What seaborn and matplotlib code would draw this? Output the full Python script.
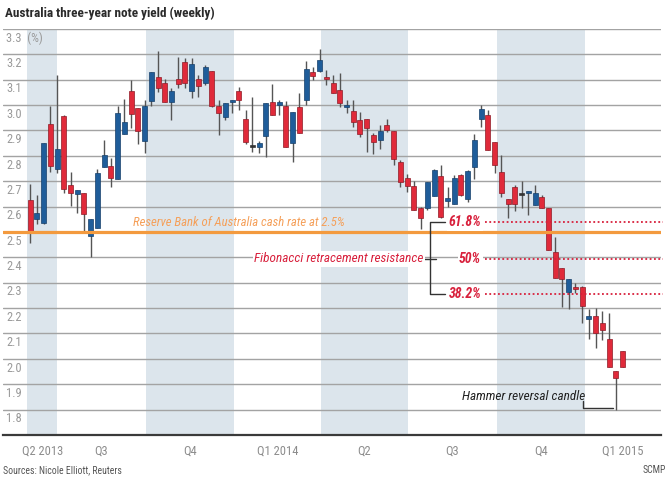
import pandas as pd
import matplotlib
matplotlib.use("Agg")
import matplotlib.pyplot as plt
import matplotlib.dates as mdates
import matplotlib.transforms as mtransforms
from matplotlib import font_manager
import seaborn as sns

# weekly candles (yield, %), first week starting 3 June 2013
week_start = "2013-06-03"
opens = [2.625, 2.55, 2.536, 2.925, 2.75, 2.957, 2.686, 2.651, 2.654, 2.483,
         2.517, 2.757, 2.759, 2.707, 2.886, 3.057, 2.99, 2.859, 3.017, 3.109,
         3.088, 3.013, 3.101, 3.171, 3.055, 3.101, 3.086, 3.136, 2.996, 2.954,
         3.013, 3.055, 2.945, 2.838, 2.836, 2.878, 3.011, 3.0, 2.996, 2.851,
         2.991, 3.022, 3.132, 3.136, 3.112, 3.088, 3.059, 2.991, 2.978, 2.941,
         2.945, 2.882, 2.862, 2.921, 2.899, 2.776, 2.713, 2.682, 2.595, 2.596,
         2.641, 2.72, 2.623, 2.61, 2.724, 2.629, 2.757, 2.945, 2.961, 2.856,
         2.738, 2.629, 2.678, 2.649, 2.652, 2.606, 2.639, 2.593, 2.423, 2.357,
         2.265, 2.285, 2.284, 2.159, 2.168, 2.142, 2.08, 1.953, 2.032]
closes = [2.50, 2.575, 2.851, 2.76, 2.829, 2.671, 2.655, 2.667, 2.572, 2.55,
          2.734, 2.803, 2.713, 2.967, 2.932, 2.965, 2.899, 2.997, 3.129, 3.066,
          3.011, 3.055, 3.083, 3.086, 3.164, 3.076, 3.149, 2.997, 2.967, 3.009,
          3.022, 3.022, 2.855, 2.835, 2.849, 3.007, 2.961, 3.013, 2.836, 2.974,
          2.891, 3.141, 3.114, 3.178, 3.101, 3.049, 3.007, 3.0, 2.934, 2.888,
          2.908, 2.855, 2.897, 2.901, 2.786, 2.697, 2.682, 2.588, 2.555, 2.696,
          2.743, 2.558, 2.635, 2.711, 2.646, 2.741, 2.862, 2.984, 2.823, 2.764,
          2.652, 2.61, 2.61, 2.647, 2.663, 2.655, 2.593, 2.429, 2.318, 2.314,
          2.314, 2.276, 2.208, 2.168, 2.103, 2.113, 1.968, 1.925, 1.968]
highs = [2.69, 2.645, 2.851, 2.997, 3.118, 2.96, 2.737, 2.667, 2.654, 2.55,
         2.75, 2.864, 2.79, 2.997, 3.024, 3.099, 2.99, 3.02, 3.132, 3.214,
         3.101, 3.066, 3.191, 3.187, 3.184, 3.118, 3.16, 3.136, 3.02, 3.009,
         3.022, 3.072, 2.98, 3.033, 2.86, 3.007, 3.082, 3.02, 3.016, 2.974,
         3.046, 3.175, 3.151, 3.221, 3.14, 3.118, 3.125, 3.02, 3.02, 2.974,
         2.945, 2.89, 2.921, 2.947, 2.899, 2.782, 2.73, 2.701, 2.6, 2.696,
         2.75, 2.764, 2.676, 2.724, 2.73, 2.744, 2.888, 3.0, 2.98, 2.856,
         2.803, 2.629, 2.685, 2.702, 2.663, 2.685, 2.645, 2.593, 2.482, 2.357,
         2.314, 2.30, 2.289, 2.195, 2.2, 2.19, 2.179, 1.953, 2.032]
lows = [2.455, 2.53, 2.53, 2.737, 2.733, 2.654, 2.601, 2.575, 2.50, 2.40,
        2.517, 2.757, 2.678, 2.707, 2.886, 2.908, 2.846, 2.812, 2.996, 3.053,
        3.011, 2.943, 3.066, 3.066, 3.03, 3.033, 3.079, 2.993, 2.884, 2.943,
        2.967, 2.98, 2.845, 2.816, 2.81, 2.796, 2.961, 2.961, 2.836, 2.776,
        2.891, 3.0, 3.099, 3.132, 3.079, 3.046, 2.991, 2.967, 2.912, 2.875,
        2.816, 2.809, 2.829, 2.895, 2.763, 2.678, 2.658, 2.588, 2.513, 2.588,
        2.641, 2.555, 2.6, 2.61, 2.64, 2.619, 2.707, 2.915, 2.823, 2.731,
        2.639, 2.554, 2.584, 2.593, 2.567, 2.606, 2.593, 2.429, 2.318, 2.205,
        2.195, 2.259, 2.14, 2.08, 2.043, 2.074, 1.968, 1.80, 1.968]

y_levels = [1.8, 1.9, 2.0, 2.1, 2.2, 2.3, 2.4, 2.5, 2.6, 2.7, 2.8, 2.9, 3.0, 3.1, 3.2, 3.3]
quarter_edges = ["2013-05-31", "2013-07-01", "2013-10-01", "2014-01-01", "2014-04-01",
                 "2014-07-01", "2014-10-01", "2015-01-01", "2015-03-21"]
quarter_labels = ["Q2 2013", "Q3", "Q4", "Q1 2014", "Q2", "Q3", "Q4", "Q1 2015"]
cash_rate = 2.5
fib_levels = [2.538, 2.394, 2.255]
fib_labels = ["61.8%", "50%", "38.2%"]

df = pd.DataFrame({"open": opens, "high": highs, "low": lows, "close": closes},
                  index=pd.date_range(week_start, periods=len(opens), freq="7D"))

sns.set_theme(style="white")

# look for a narrow face, the original uses a condensed font
family, stretch = "Liberation Sans", "normal"
found = {}
for f in font_manager.fontManager.ttflist:
    fn = f.fname.lower()
    if "narrow" in fn or "condensed" in fn or f.stretch in ("condensed", "semi-condensed"):
        found.setdefault(f.name, f.stretch)
for cand in ["Liberation Sans Narrow", "Roboto Condensed", "Open Sans Condensed",
             "Noto Sans", "DejaVu Sans", "Open Sans", "Roboto"]:
    if cand in found:
        family, stretch = cand, found[cand]
        break
else:
    if found:
        family, stretch = sorted(found.items())[0]
plt.rcParams["font.family"] = [family, "DejaVu Sans"]
plt.rcParams["font.stretch"] = stretch

RED = "#e02a3a"
BLUE = "#1f5d9a"
CRIMSON = "#d8203c"
BAND = "#dce5ec"


def d(s):
    return mdates.date2num(pd.Timestamp(s))


fig = plt.figure(figsize=(6.69, 4.78), dpi=100)
ax = fig.add_axes([3 / 669, 43 / 478, 658 / 669, 406 / 478])

edges = [d(e) for e in quarter_edges]
# shaded alternate quarters
for i in range(0, len(edges) - 1, 2):
    ax.axvspan(edges[i], edges[i + 1], color=BAND, lw=0, zorder=0)

# candles
x = mdates.date2num(df.index)
body_lo = df[["open", "close"]].min(axis=1)
body_h = (df["close"] - df["open"]).abs().clip(lower=0.007)
up = df["close"] >= df["open"]
doji = (df["close"] - df["open"]).abs() < 0.005
fill = [("#333333" if dj else (BLUE if u else RED)) for u, dj in zip(up, doji)]
edge = [("#333333" if dj else ("#163f69" if u else "#8e1a26")) for u, dj in zip(up, doji)]
ax.vlines(x, df["low"], df["high"], color="#555555", lw=1.0, zorder=3)
ax.bar(x, body_h, bottom=body_lo, width=5.2, color=fill, edgecolor=edge, lw=0.5, zorder=4)

ax.set_xlim(d("2013-05-05 19:00"), d("2015-03-21"))
ax.set_ylim(1.7, 3.3)

# grid and axes
ax.set_yticks(y_levels)
ax.yaxis.grid(True, color="#a3a3a3", lw=1.0)
ax.set_axisbelow(True)
ax.tick_params(axis="y", length=0, labelleft=False)
for s in ["top", "left", "right"]:
    ax.spines[s].set_visible(False)
ax.spines["bottom"].set_color("#3a3a3a")
ax.spines["bottom"].set_linewidth(1.6)

ax.set_xticks(edges)
ax.tick_params(axis="x", which="major", direction="in", length=4, width=1,
               color="#555555", labelbottom=False)
mids = [(a + b) / 2 for a, b in zip(edges[:-1], edges[1:])]
ax.set_xticks(mids, minor=True)
ax.set_xticklabels(quarter_labels, minor=True)
ax.tick_params(axis="x", which="minor", length=0, pad=7, labelsize=9, labelcolor="#8c8c8c")

trans = mtransforms.blended_transform_factory(ax.transAxes, ax.transData)
for v in y_levels:
    lab = "%.1f" % v
    if v == 3.3:
        lab = "3.3  (%)"
    ax.text(3 / 658, v - 0.036, lab, transform=trans, ha="left", va="center",
            fontsize=9, color="#9a9a9a", zorder=5)

# cash rate line
ax.axhline(cash_rate, color="#f39a3e", lw=2.3, zorder=6)
ax.text(d("2013-09-18"), cash_rate + 0.012, "Reserve Bank of Australia cash rate at 2.5%",
        color="#f5a05a", style="italic", fontsize=9.2, va="bottom", ha="left", zorder=7)

# Fibonacci levels
for lev, lab in zip(fib_levels, fib_labels):
    ax.plot([d("2014-09-19"), d("2015-03-23")], [lev, lev], ls=(0, (1, 1.4)),
            color=CRIMSON, lw=1.3, zorder=6, clip_on=False)
    ax.text(d("2014-09-15"), lev, lab, ha="right", va="center", color=CRIMSON,
            style="italic", fontweight="semibold", fontsize=10, zorder=7,
            bbox=dict(facecolor="white", edgecolor="none", pad=1))
ax.plot([d("2014-08-08"), d("2014-07-24"), d("2014-07-24"), d("2014-08-08")],
        [fib_levels[0], fib_levels[0], fib_levels[2], fib_levels[2]],
        color="#333333", lw=1, zorder=6)
ax.plot([d("2014-07-17"), d("2014-07-30")], [fib_levels[1]] * 2, color="#333333", lw=1, zorder=6)
ax.text(d("2014-07-17"), fib_levels[1], "Fibonacci retracement resistance", ha="right",
        va="center", color=CRIMSON, style="italic", fontsize=9.5, zorder=7,
        bbox=dict(facecolor="white", edgecolor="none", pad=1))

# hammer note
ax.text(d("2015-01-01"), 1.853, "Hammer reversal candle", ha="right", va="center",
        color="#222222", style="italic", fontsize=9.5, zorder=7)
ax.plot([d("2014-12-30"), d("2014-12-30"), d("2015-01-30")], [1.835, 1.805, 1.805],
        color="#333333", lw=1, zorder=6)

fig.text(5 / 669, 1 - 13 / 478, "Australia three-year note yield (weekly)", fontsize=9.5,
         fontweight="bold", color="#2a2a2a", va="center", ha="left")
fig.text(3 / 669, 1 - 470 / 478, "Sources: Nicole Elliott, Reuters", fontsize=7,
         color="#555555", va="center", ha="left")
fig.text(666 / 669, 1 - 470 / 478, "SCMP", fontsize=7, color="#555555", va="center", ha="right")

fig.savefig("out.png", dpi=100)
